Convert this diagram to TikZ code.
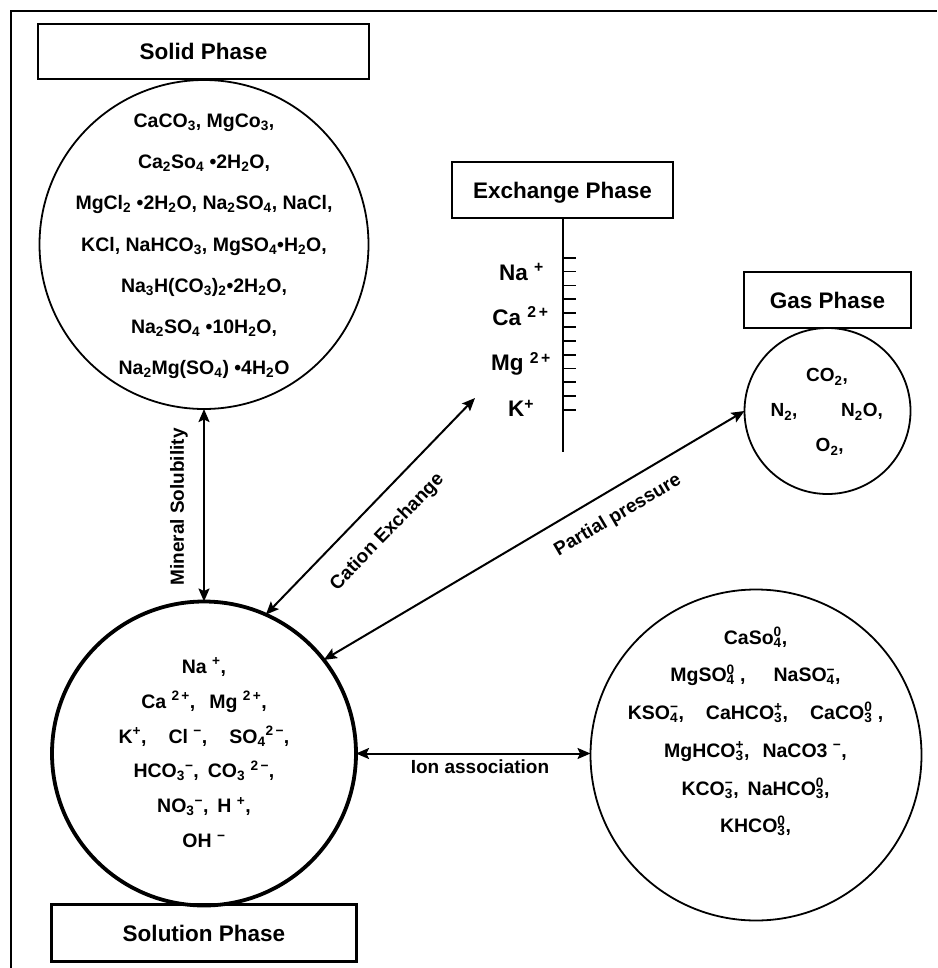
\documentclass[tikz,border=0pt]{standalone}
\usepackage{fontspec}
\setmainfont{Liberation Sans}
\usetikzlibrary{arrows.meta}
\newcommand\sbs[1]{\textsubscript{#1}}
\newcommand\sps[1]{\textsuperscript{#1}}
\newcommand\stk[2]{\rlap{\textsubscript{#1}}\textsuperscript{#2}}
\newcommand\mn{−}
\begin{document}
\begin{tikzpicture}[x=1pt,y=-1pt,
  ttl/.style={draw, line width=1.8pt, inner sep=0pt, outer sep=0pt,
    font=\fontsize{22.5}{27}\selectfont\bfseries, text height=16.1pt, text depth=0pt},
  circ/.style={draw, circle, line width=1.8pt, inner sep=0pt, outer sep=0pt},
  body/.style={font=\fontsize{19.5}{23}\selectfont\bfseries, anchor=base, inner sep=0pt},
  gastxt/.style={font=\fontsize{19}{23}\selectfont\bfseries, anchor=base, inner sep=0pt},
  extxt/.style={font=\fontsize{22.5}{27}\selectfont\bfseries, anchor=base, inner sep=0pt},
  lbl/.style={font=\fontsize{19}{23}\selectfont\bfseries, inner sep=0pt, text height=13.6pt, text depth=0pt},
  arr/.style={line width=2pt, {Stealth[length=13pt,width=11pt,inset=2.5pt]}-{Stealth[length=13pt,width=11pt,inset=2.5pt]}}
]
\useasboundingbox (0,0) rectangle (937,968);
\fill[white] (0,0) rectangle (937,968);
% outer frame
\draw[line width=2.2pt] (11,968) -- (11,11) -- (937,11);

% Solid phase
\node[ttl, minimum width=331pt, minimum height=55pt] (solidbox) at (203.5,51.5) {Solid Phase};
\node[circ, minimum size=329pt] (solid) at (204,244.5) {};
\foreach \t [count=\i] in {
  {CaCO\sbs{3}, MgCo\sbs{3},},
  {Ca\sbs{2}So\sbs{4} \textbullet2H\sbs{2}O,},
  {MgCl\sbs{2} \textbullet2H\sbs{2}O, Na\sbs{2}SO\sbs{4}, NaCl,},
  {KCl, NaHCO\sbs{3}, MgSO\sbs{4}\textbullet H\sbs{2}O,},
  {Na\sbs{3}H(CO\sbs{3})\sbs{2}\textbullet2H\sbs{2}O,},
  {Na\sbs{2}SO\sbs{4} \textbullet10H\sbs{2}O,},
  {Na\sbs{2}Mg(SO\sbs{4}) \textbullet4H\sbs{2}O}}
  \node[body] (sl\i) at (204,{127.5+41.17*(\i-1)}) {\t};

% Exchange phase
\node[ttl, minimum width=221pt, minimum height=56pt] (exbox) at (562.5,190) {Exchange Phase};
\coordinate (exend) at (562.5,452);
\draw[line width=2pt] (exbox.south) -- (exend);
\foreach \i in {0,...,11}
  \draw[line width=1.8pt] (562.5,{257.7+13.85*\i}) -- (576,{257.7+13.85*\i});
\node[extxt] (exna) at (521.5,280) {Na \sps{+}};
\node[extxt] (exca) at (520.5,325) {Ca \sps{2\,+}};
\node[extxt] (exmg) at (521,370.7) {Mg \sps{2\,+}};
\node[extxt] (exk) at (521,416.7) {K\sps{+}};

% Gas phase
\node[ttl, minimum width=167pt, minimum height=56pt] (gasbox) at (827.5,300) {Gas Phase};
\node[circ, minimum size=166pt] (gas) at (827.5,411) {};
\node[gastxt] (gco2) at (827,381.7) {CO\sbs{2},};
\node[gastxt] (gn2) at (784,416.7) {N\sbs{2},};
\node[gastxt] (gn2o) at (862,416.7) {N\sbs{2}O,};
\node[gastxt] (go2) at (829.7,451.7) {O\sbs{2},};

% Solution phase
\node[circ, line width=3.8pt, minimum size=304pt] (solution) at (204,753.5) {};
\node[ttl, line width=3.2pt, minimum width=305pt, minimum height=57pt] (solbox) at (204,933) {Solution Phase};
\foreach \t [count=\i] in {
  {Na \sps{+},},
  {Ca \sps{2\,+},\hspace{14pt}Mg \sps{2\,+},},
  {K\sps{+},\hspace{22pt}Cl \sps{\mn},\hspace{22pt}SO\sbs{4}\sps{2\,\mn},},
  {HCO\sbs{3}\sps{\mn},\hspace{9pt}CO\sbs{3} \sps{2\,\mn},},
  {NO\sbs{3}\sps{\mn},\hspace{9pt}H \sps{+},},
  {OH \sps{\mn}}}
  \node[body] (ul\i) at (204,{673.3+34.85*(\i-1)}) {\t};

% Ion association phase
\node[circ, minimum size=331pt] (assoc) at (756,755) {};
\foreach \t [count=\i] in {
  {CaSo\stk{4}{0},},
  {MgSO\stk{4}{0} ,\hspace{28pt}NaSO\stk{4}{\mn},},
  {KSO\stk{4}{\mn},\hspace{22pt}CaHCO\stk{3}{+},\hspace{22pt}CaCO\stk{3}{0} ,},
  {MgHCO\stk{3}{+},\hspace{13pt}NaCO3 \sps{\mn},},
  {KCO\stk{3}{\mn},\hspace{9pt}NaHCO\stk{3}{0},},
  {KHCO\stk{3}{0},}}
  \node[body] (al\i) at (755.5,{644+37.75*(\i-1)}) {\t};

% Connectors
\coordinate (exTip) at (475,398);
\draw[arr] (solid.south) -- (solution.north);
\draw[arr] (solution.66) -- (exTip);
\draw[arr] (solution.38) -- (gas.west);
\draw[arr] (solution.east) -- (solution.east -| assoc.west);

% Connector labels
\node[lbl, rotate=90] (lmin) at (177,507) {Mineral Solubility};
\node[lbl, rotate=45.9] (lcat) at (386,531) {Cation Exchange};
\node[lbl, rotate=30.6] (lpar) at (617,514) {Partial pressure};
\node[lbl] (lion) at (480,767) {Ion association};
\end{tikzpicture}
\end{document}
